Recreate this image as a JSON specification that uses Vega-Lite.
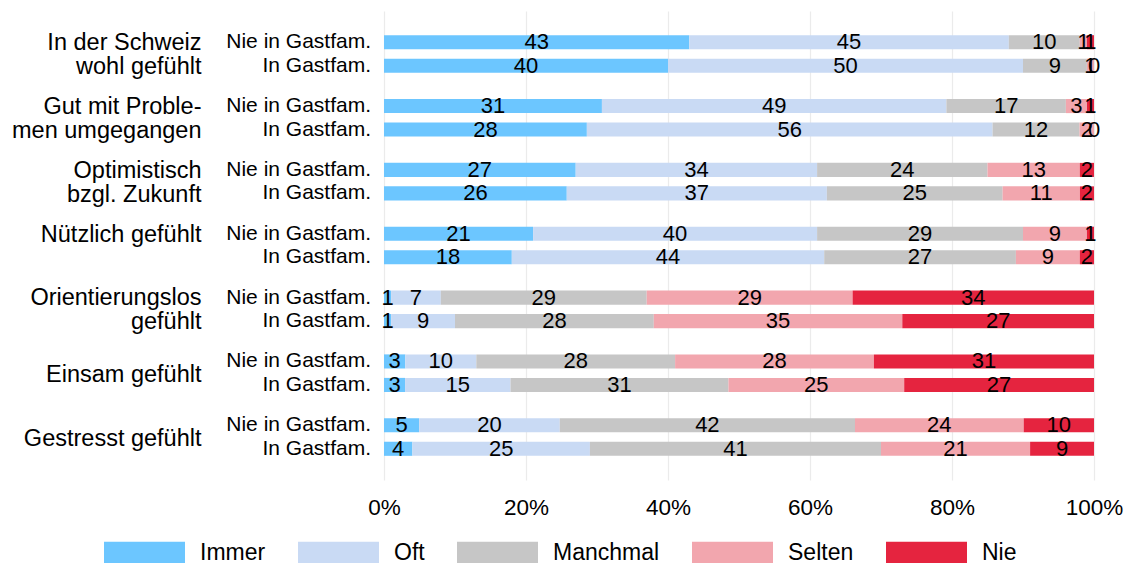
{
  "$schema": "https://vega.github.io/schema/vega-lite/v6.json",
  "width": 710,
  "height": 469,
  "autosize": {"type": "none"},
  "padding": {"left": 384, "top": 11, "right": 32, "bottom": 83},
  "config": {
    "view": {"stroke": null},
    "font": "Liberation Sans",
    "axis": {"labelFont": "Liberation Sans", "labelColor": "#000000"},
    "legend": {"labelFont": "Liberation Sans", "labelColor": "#000000"}
  },
  "data": {
    "values": [
      {"g": "In der Schweiz|wohl gefühlt", "s": "Nie in Gastfam.", "c": "Immer", "v": 43},
      {"g": "In der Schweiz|wohl gefühlt", "s": "Nie in Gastfam.", "c": "Oft", "v": 45},
      {"g": "In der Schweiz|wohl gefühlt", "s": "Nie in Gastfam.", "c": "Manchmal", "v": 10},
      {"g": "In der Schweiz|wohl gefühlt", "s": "Nie in Gastfam.", "c": "Selten", "v": 1},
      {"g": "In der Schweiz|wohl gefühlt", "s": "Nie in Gastfam.", "c": "Nie", "v": 1},
      {"g": "In der Schweiz|wohl gefühlt", "s": "In Gastfam.", "c": "Immer", "v": 40},
      {"g": "In der Schweiz|wohl gefühlt", "s": "In Gastfam.", "c": "Oft", "v": 50},
      {"g": "In der Schweiz|wohl gefühlt", "s": "In Gastfam.", "c": "Manchmal", "v": 9},
      {"g": "In der Schweiz|wohl gefühlt", "s": "In Gastfam.", "c": "Selten", "v": 1},
      {"g": "In der Schweiz|wohl gefühlt", "s": "In Gastfam.", "c": "Nie", "v": 0},
      {"g": "Gut mit Proble-|men umgegangen", "s": "Nie in Gastfam.", "c": "Immer", "v": 31},
      {"g": "Gut mit Proble-|men umgegangen", "s": "Nie in Gastfam.", "c": "Oft", "v": 49},
      {"g": "Gut mit Proble-|men umgegangen", "s": "Nie in Gastfam.", "c": "Manchmal", "v": 17},
      {"g": "Gut mit Proble-|men umgegangen", "s": "Nie in Gastfam.", "c": "Selten", "v": 3},
      {"g": "Gut mit Proble-|men umgegangen", "s": "Nie in Gastfam.", "c": "Nie", "v": 1},
      {"g": "Gut mit Proble-|men umgegangen", "s": "In Gastfam.", "c": "Immer", "v": 28},
      {"g": "Gut mit Proble-|men umgegangen", "s": "In Gastfam.", "c": "Oft", "v": 56},
      {"g": "Gut mit Proble-|men umgegangen", "s": "In Gastfam.", "c": "Manchmal", "v": 12},
      {"g": "Gut mit Proble-|men umgegangen", "s": "In Gastfam.", "c": "Selten", "v": 2},
      {"g": "Gut mit Proble-|men umgegangen", "s": "In Gastfam.", "c": "Nie", "v": 0},
      {"g": "Optimistisch|bzgl. Zukunft", "s": "Nie in Gastfam.", "c": "Immer", "v": 27},
      {"g": "Optimistisch|bzgl. Zukunft", "s": "Nie in Gastfam.", "c": "Oft", "v": 34},
      {"g": "Optimistisch|bzgl. Zukunft", "s": "Nie in Gastfam.", "c": "Manchmal", "v": 24},
      {"g": "Optimistisch|bzgl. Zukunft", "s": "Nie in Gastfam.", "c": "Selten", "v": 13},
      {"g": "Optimistisch|bzgl. Zukunft", "s": "Nie in Gastfam.", "c": "Nie", "v": 2},
      {"g": "Optimistisch|bzgl. Zukunft", "s": "In Gastfam.", "c": "Immer", "v": 26},
      {"g": "Optimistisch|bzgl. Zukunft", "s": "In Gastfam.", "c": "Oft", "v": 37},
      {"g": "Optimistisch|bzgl. Zukunft", "s": "In Gastfam.", "c": "Manchmal", "v": 25},
      {"g": "Optimistisch|bzgl. Zukunft", "s": "In Gastfam.", "c": "Selten", "v": 11},
      {"g": "Optimistisch|bzgl. Zukunft", "s": "In Gastfam.", "c": "Nie", "v": 2},
      {"g": "Nützlich gefühlt|", "s": "Nie in Gastfam.", "c": "Immer", "v": 21},
      {"g": "Nützlich gefühlt|", "s": "Nie in Gastfam.", "c": "Oft", "v": 40},
      {"g": "Nützlich gefühlt|", "s": "Nie in Gastfam.", "c": "Manchmal", "v": 29},
      {"g": "Nützlich gefühlt|", "s": "Nie in Gastfam.", "c": "Selten", "v": 9},
      {"g": "Nützlich gefühlt|", "s": "Nie in Gastfam.", "c": "Nie", "v": 1},
      {"g": "Nützlich gefühlt|", "s": "In Gastfam.", "c": "Immer", "v": 18},
      {"g": "Nützlich gefühlt|", "s": "In Gastfam.", "c": "Oft", "v": 44},
      {"g": "Nützlich gefühlt|", "s": "In Gastfam.", "c": "Manchmal", "v": 27},
      {"g": "Nützlich gefühlt|", "s": "In Gastfam.", "c": "Selten", "v": 9},
      {"g": "Nützlich gefühlt|", "s": "In Gastfam.", "c": "Nie", "v": 2},
      {"g": "Orientierungslos|gefühlt", "s": "Nie in Gastfam.", "c": "Immer", "v": 1},
      {"g": "Orientierungslos|gefühlt", "s": "Nie in Gastfam.", "c": "Oft", "v": 7},
      {"g": "Orientierungslos|gefühlt", "s": "Nie in Gastfam.", "c": "Manchmal", "v": 29},
      {"g": "Orientierungslos|gefühlt", "s": "Nie in Gastfam.", "c": "Selten", "v": 29},
      {"g": "Orientierungslos|gefühlt", "s": "Nie in Gastfam.", "c": "Nie", "v": 34},
      {"g": "Orientierungslos|gefühlt", "s": "In Gastfam.", "c": "Immer", "v": 1},
      {"g": "Orientierungslos|gefühlt", "s": "In Gastfam.", "c": "Oft", "v": 9},
      {"g": "Orientierungslos|gefühlt", "s": "In Gastfam.", "c": "Manchmal", "v": 28},
      {"g": "Orientierungslos|gefühlt", "s": "In Gastfam.", "c": "Selten", "v": 35},
      {"g": "Orientierungslos|gefühlt", "s": "In Gastfam.", "c": "Nie", "v": 27},
      {"g": "Einsam gefühlt", "s": "Nie in Gastfam.", "c": "Immer", "v": 3},
      {"g": "Einsam gefühlt", "s": "Nie in Gastfam.", "c": "Oft", "v": 10},
      {"g": "Einsam gefühlt", "s": "Nie in Gastfam.", "c": "Manchmal", "v": 28},
      {"g": "Einsam gefühlt", "s": "Nie in Gastfam.", "c": "Selten", "v": 28},
      {"g": "Einsam gefühlt", "s": "Nie in Gastfam.", "c": "Nie", "v": 31},
      {"g": "Einsam gefühlt", "s": "In Gastfam.", "c": "Immer", "v": 3},
      {"g": "Einsam gefühlt", "s": "In Gastfam.", "c": "Oft", "v": 15},
      {"g": "Einsam gefühlt", "s": "In Gastfam.", "c": "Manchmal", "v": 31},
      {"g": "Einsam gefühlt", "s": "In Gastfam.", "c": "Selten", "v": 25},
      {"g": "Einsam gefühlt", "s": "In Gastfam.", "c": "Nie", "v": 27},
      {"g": "Gestresst gefühlt", "s": "Nie in Gastfam.", "c": "Immer", "v": 5},
      {"g": "Gestresst gefühlt", "s": "Nie in Gastfam.", "c": "Oft", "v": 20},
      {"g": "Gestresst gefühlt", "s": "Nie in Gastfam.", "c": "Manchmal", "v": 42},
      {"g": "Gestresst gefühlt", "s": "Nie in Gastfam.", "c": "Selten", "v": 24},
      {"g": "Gestresst gefühlt", "s": "Nie in Gastfam.", "c": "Nie", "v": 10},
      {"g": "Gestresst gefühlt", "s": "In Gastfam.", "c": "Immer", "v": 4},
      {"g": "Gestresst gefühlt", "s": "In Gastfam.", "c": "Oft", "v": 25},
      {"g": "Gestresst gefühlt", "s": "In Gastfam.", "c": "Manchmal", "v": 41},
      {"g": "Gestresst gefühlt", "s": "In Gastfam.", "c": "Selten", "v": 21},
      {"g": "Gestresst gefühlt", "s": "In Gastfam.", "c": "Nie", "v": 9}
    ]
  },
  "transform": [
    {"window": [{"op": "row_number", "as": "rn"}], "groupby": ["g", "s"]}
  ],
  "encoding": {
    "y": {
      "field": "g", "type": "nominal", "sort": null,
      "scale": {"paddingInner": 0.264, "paddingOuter": 0.305},
      "axis": {
        "title": null, "domain": false, "ticks": false, "grid": false,
        "labelPadding": 183, "labelFontSize": 23.5, "labelLineHeight": 24,
        "labelAlign": "right", "labelBaseline": "middle", "labelLimit": 0,
        "labelOffset": {"condition": {"test": "indexof(datum.value, '|') >= 0", "value": -11}, "value": 2},
        "labelExpr": "split(datum.value, '|')"
      }
    },
    "yOffset": {
      "field": "s", "type": "nominal", "sort": null,
      "scale": {"paddingInner": 0.4, "paddingOuter": 0.2}
    }
  },
  "layer": [
    {
      "mark": {"type": "bar"},
      "encoding": {
        "x": {
          "field": "v", "type": "quantitative", "stack": "normalize",
          "scale": {"domain": [0, 1], "nice": false},
          "axis": {
            "title": null, "format": ".0%", "values": [0, 0.2, 0.4, 0.6, 0.8, 1],
            "domain": false, "ticks": false, "grid": true, "labelFlush": false,
            "gridColor": "#EBEBEB", "gridWidth": 1.2,
            "labelFontSize": 22.5, "labelPadding": 16
          }
        },
        "color": {
          "field": "c", "type": "nominal",
          "scale": {
            "domain": ["Immer", "Oft", "Manchmal", "Selten", "Nie"],
            "range": ["#6CC6FF", "#C9DAF4", "#C6C6C6", "#F2A6AE", "#E5243F"]
          },
          "legend": {
            "title": null, "orient": "none", "direction": "horizontal",
            "legendX": -280, "legendY": 501,
            "symbolType": "M-1,-0.27H1V0.27H-1Z", "symbolSize": 6561,
            "symbolStrokeWidth": 0, "symbolOpacity": 1, "labelLimit": 0,
            "labelFontSize": 23, "labelOffset": 15, "columnPadding": 32
          }
        },
        "order": {"field": "rn", "type": "quantitative"}
      }
    },
    {
      "mark": {"type": "text", "fontSize": 22, "color": "#000000", "baseline": "middle", "align": "center"},
      "encoding": {
        "x": {"field": "v", "type": "quantitative", "stack": "normalize", "bandPosition": 0.5},
        "detail": {"field": "c"},
        "text": {"field": "v", "type": "quantitative"},
        "order": {"field": "rn", "type": "quantitative"}
      }
    },
    {
      "transform": [{"filter": "datum.c == 'Immer'"}],
      "mark": {"type": "text", "fontSize": 21, "color": "#000000", "baseline": "middle", "align": "right", "dx": -13},
      "encoding": {
        "x": {"datum": 0, "type": "quantitative"},
        "text": {"field": "s"}
      }
    }
  ]
}
